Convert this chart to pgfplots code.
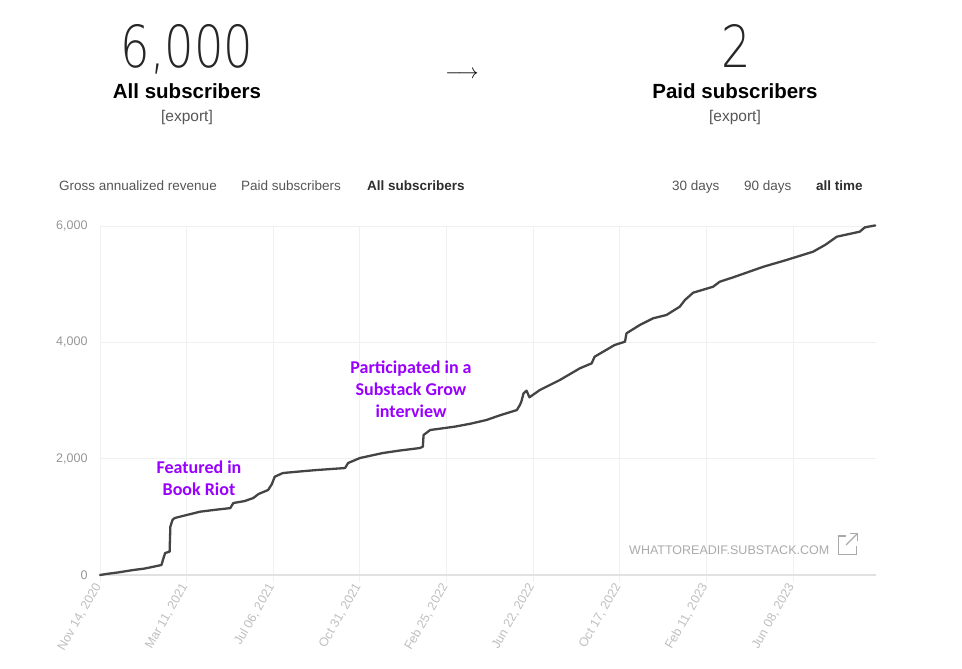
\documentclass[border=0pt]{standalone}
\usepackage{pgfplots}
\pgfplotsset{compat=1.18}
\usepackage{fontspec}
\setmainfont{Liberation Sans}
\newfontfamily\annfont{Carlito}
\newfontfamily\thinfont{DejaVu Sans ExtraLight}
\definecolor{linegray}{RGB}{68,68,68}
\definecolor{gridgray}{RGB}{240,240,240}
\definecolor{zerogray}{RGB}{225,225,225}
\definecolor{ytickgray}{RGB}{150,150,150}
\definecolor{xtickgray}{RGB}{190,190,190}
\definecolor{tabgray}{RGB}{85,85,85}
\definecolor{tabdark}{RGB}{45,45,45}
\definecolor{wmgray}{RGB}{170,170,170}
\definecolor{annpurple}{RGB}{153,0,255}
\begin{document}
\begin{tikzpicture}[x=1pt,y=1pt]
\useasboundingbox (0,0) rectangle (962,669);
% header
\node[anchor=base, inner sep=0, text=black!85] at (187,601) {\thinfont\fontsize{58}{60}\selectfont\scalebox{0.8}[1]{6,000}};
\node[anchor=base, inner sep=0] at (187,570) {\fontsize{20.5}{22}\selectfont\bfseries All subscribers};
\node[anchor=base, inner sep=0, text=tabgray] at (187,547) {\fontsize{15.5}{17}\selectfont [export]};
\node[inner sep=0] at (462,594) {\fontsize{20}{22}\selectfont$\longrightarrow$};
\node[anchor=base, inner sep=0, text=black!85] at (736,601) {\thinfont\fontsize{58}{60}\selectfont\scalebox{0.8}[1]{2}};
\node[anchor=base, inner sep=0] at (735,570) {\fontsize{20.5}{22}\selectfont\bfseries Paid subscribers};
\node[anchor=base, inner sep=0, text=tabgray] at (735,547) {\fontsize{15.5}{17}\selectfont [export]};
% tabs
\node[anchor=base west, inner sep=0, text=tabgray] at (59,478) {\fontsize{13.5}{15}\selectfont Gross annualized revenue};
\node[anchor=base west, inner sep=0, text=tabgray] at (241,478) {\fontsize{13.5}{15}\selectfont Paid subscribers};
\node[anchor=base west, inner sep=0, text=tabdark] at (367,478) {\fontsize{13.5}{15}\selectfont\bfseries All subscribers};
\node[anchor=base west, inner sep=0, text=tabgray] at (672,478) {\fontsize{13.5}{15}\selectfont 30 days};
\node[anchor=base west, inner sep=0, text=tabgray] at (744,478) {\fontsize{13.5}{15}\selectfont 90 days};
\node[anchor=base west, inner sep=0, text=tabdark] at (816,478) {\fontsize{13.5}{15}\selectfont\bfseries all time};
\begin{axis}[
  at={(100pt,94pt)}, anchor=south west,
  scale only axis, width=776pt, height=349pt,
  xmin=0, xmax=1048, ymin=0, ymax=6000,
  clip=false,
  axis line style={draw=none},
  xtick={0,117,234,351,468,585,702,819,936},
  xticklabels={{Nov 14, 2020},{Mar 11, 2021},{Jul 06, 2021},{Oct 31, 2021},{Feb 25, 2022},{Jun 22, 2022},{Oct 17, 2022},{Feb 11, 2023},{Jun 08, 2023}},
  ytick={0,2000,4000,6000},
  grid=major,
  grid style={draw=gridgray, line width=0.9pt},
  xtick pos=bottom, ytick pos=left,
  tick align=outside,
  xtick style={draw=gridgray, line width=0.9pt},
  ytick style={draw=none},
  major tick length=7pt,
  /pgf/number format/.cd, 1000 sep={,}, assume math mode=true,
  /pgfplots/.cd,
  yticklabel style={font=\fontsize{12.5}{14}\selectfont, text=ytickgray, xshift=-2pt},
  xticklabel style={font=\fontsize{12.5}{14}\selectfont, text=xtickgray, rotate=60, anchor=east},
]
\draw[zerogray, line width=1.2pt] (axis cs:0,0) -- (axis cs:1048,0);
\addplot[linegray, line width=2.3pt, line join=round, line cap=round] coordinates {
(0,0) (10,20) (25,45) (45,86) (60,110) (75,150) (83,172) (86,300) (88,378) (94,400) (95,830) (98,950) (101,980)
(117,1031) (135,1088) (155,1120) (176,1150) (180,1237) (195,1270) (207,1323) (214,1392) (227,1461) (232,1560)
(236,1690) (247,1753) (270,1780) (293,1805) (331,1839) (335,1925) (351,2011) (382,2097) (405,2140) (432,2183)
(436,2206) (437,2407) (446,2493) (479,2550) (500,2600) (522,2665) (540,2745) (563,2836) (567,2922) (569,2980)
(572,3123) (576,3169) (580,3055) (594,3180) (621,3352) (648,3553) (664,3639) (668,3753) (695,3954) (709,4011)
(711,4155) (729,4298) (747,4413) (765,4470) (783,4613) (790,4728) (801,4853) (828,4956) (837,5042) (855,5117)
(896,5300) (927,5415) (963,5558) (980,5680) (995,5816) (1026,5902) (1033,5977) (1047,6010)
};
\end{axis}
% annotations
\node[align=center, text=annpurple, inner sep=0, font=\annfont\bfseries\fontsize{18}{22}\selectfont] at (199,191) {Featured in\\Book Riot};
\node[align=center, text=annpurple, inner sep=0, font=\annfont\bfseries\fontsize{18}{22}\selectfont] at (411,280) {Participated in a\\Substack Grow\\interview};
% watermark
\node[anchor=base west, inner sep=0, text=wmgray] at (629,114) {\fontsize{12.5}{14}\selectfont WHATTOREADIF.SUBSTACK.COM};
\draw[wmgray, line width=1.4pt] (846,133) -- (838.5,133) -- (838.5,114.5) -- (856.5,114.5) -- (856.5,123);
\draw[wmgray, line width=1.4pt] (846,124) -- (857.5,135.5);
\draw[wmgray, line width=1.4pt] (850,135.5) -- (857.5,135.5) -- (857.5,128);
\end{tikzpicture}
\end{document}
